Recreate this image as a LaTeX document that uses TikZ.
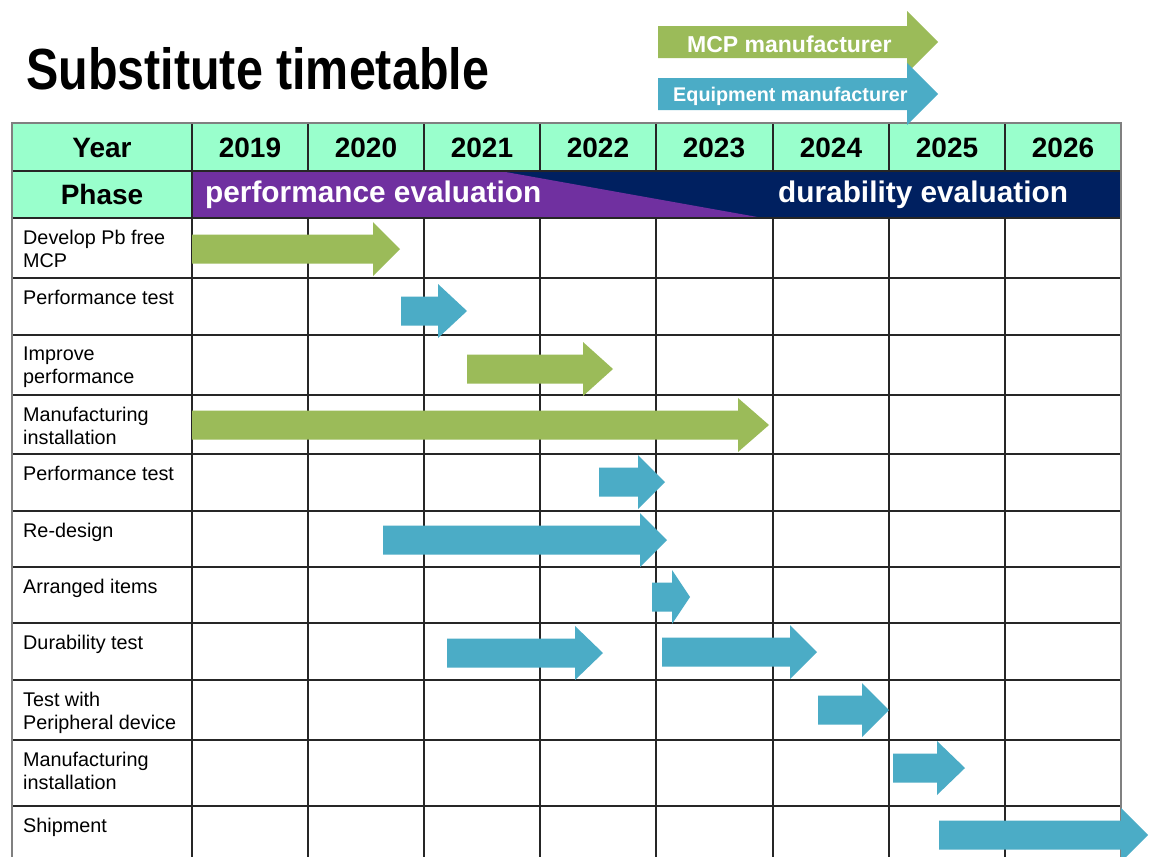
\documentclass[tikz,border=0pt]{standalone}
\usepackage{graphicx}
\usepackage{fontspec}
\setmainfont{Liberation Sans}
\definecolor{mint}{HTML}{99FFCC}
\definecolor{ppl}{HTML}{7030A0}
\definecolor{navyc}{HTML}{002060}
\definecolor{grn}{HTML}{9BBB59}
\definecolor{blu}{HTML}{4BACC6}
\newcommand{\gbar}[5]{\fill[#1] (#2,#5-14.5) -- (#3,#5-14.5) -- (#3,#5-27) -- (#4,#5) -- (#3,#5+27) -- (#3,#5+14.5) -- (#2,#5+14.5) -- cycle;}
\newcommand{\lbar}[5]{\fill[#1] (#2,#5-16) -- (#3,#5-16) -- (#3,#5-31) -- (#4,#5) -- (#3,#5+31) -- (#3,#5+16) -- (#2,#5+16) -- cycle;}
\begin{document}
\begin{tikzpicture}[x=1pt,y=-1pt,
  gridline/.style={line width=1.4pt, draw=black!85},
  borderline/.style={line width=2pt, draw=gray},
  hdr/.style={font=\fontsize{28}{30}\selectfont\bfseries, inner sep=0, anchor=base},
  lbl/.style={anchor=north west, align=left, inner sep=0, font=\fontsize{19.8}{23}\selectfont},
  band/.style={text=white, font=\fontsize{29.8}{31}\selectfont\bfseries, inner sep=0, anchor=base west},
  legendtxt/.style={text=white, inner sep=0, anchor=base west},
]
\useasboundingbox (0,0) rectangle (1152,857);
\clip (0,0) rectangle (1152,857);
\fill[white] (0,0) rectangle (1152,857);

% header fills
\fill[mint] (12,123) rectangle (1121,171);
\fill[mint] (12,171) rectangle (192,218);
\fill[navyc] (192,171) rectangle (1121,218);
\fill[ppl] (192,171) -- (500,171) -- (763,218) -- (192,218) -- cycle;

% grid
\foreach \y in {171,218,278,335,395,454,511,567,623,680,740,806}
  \draw[gridline] (12,\y) -- (1121,\y);
\foreach \x in {308,424,540,656,773,889,1005} {
  \draw[gridline] (\x,123) -- (\x,171);
  \draw[gridline] (\x,218) -- (\x,880);
}
\draw[gridline] (192,123) -- (192,880);
\draw[borderline] (12,880) -- (12,123) -- (1121,123) -- (1121,880);

% header texts
\node[hdr] (year) at (102,157) {Year};
\node[hdr] (y2019) at (250,157) {2019};
\node[hdr] (y2020) at (366,157) {2020};
\node[hdr] (y2021) at (482,157) {2021};
\node[hdr] (y2022) at (598,157) {2022};
\node[hdr] (y2023) at (714,157) {2023};
\node[hdr] (y2024) at (831,157) {2024};
\node[hdr] (y2025) at (947,157) {2025};
\node[hdr] (y2026) at (1063,157) {2026};
\node[hdr] (phase) at (102,204) {Phase};
\node[band] (perf) at (205,202) {performance evaluation};
\node[band] (dura) at (778,202) {durability evaluation};

% row labels
\node[lbl] (r1) at (23,230) {Develop Pb free\\MCP};
\node[lbl] (r2) at (23,290) {Performance test};
\node[lbl] (r3) at (23,347) {Improve\\performance};
\node[lbl] (r4) at (23,407) {Manufacturing\\installation};
\node[lbl] (r5) at (23,466) {Performance test};
\node[lbl] (r6) at (23,523) {Re-design};
\node[lbl] (r7) at (23,579) {Arranged items};
\node[lbl] (r8) at (23,635) {Durability test};
\node[lbl] (r9) at (23,692) {Test with\\Peripheral device};
\node[lbl] (r10) at (23,752) {Manufacturing\\installation};
\node[lbl] (r11) at (23,818) {Shipment};

% gantt arrows
\gbar{grn}{192}{373}{400}{249}
\gbar{blu}{401}{438}{467}{311}
\gbar{grn}{467}{583}{613}{369}
\gbar{grn}{192}{738}{769}{425}
\gbar{blu}{599}{638}{665}{482}
\gbar{blu}{383}{640}{667}{540}
\gbar{blu}{652}{672}{690}{597}
\gbar{blu}{447}{575}{603}{653}
\gbar{blu}{662}{790}{817}{652}
\gbar{blu}{818}{862}{889}{710}
\gbar{blu}{893}{937}{965}{768}
\gbar{blu}{939}{1121}{1148}{835}

% legend
\lbar{grn}{658}{907}{938}{42}
\lbar{blu}{658}{907}{938}{94}
\node[legendtxt, font=\fontsize{23}{25}\selectfont\bfseries] (lmcp) at (687,52) {MCP manufacturer};
\node[legendtxt, font=\fontsize{19.8}{22}\selectfont\bfseries] (leq) at (673,101) {Equipment manufacturer};

% title
\node[inner sep=0, anchor=base west] (title) at (26,89)
  {\scalebox{0.835}[1]{\fontsize{58}{60}\selectfont\bfseries Substitute timetable}};
\end{tikzpicture}
\end{document}
